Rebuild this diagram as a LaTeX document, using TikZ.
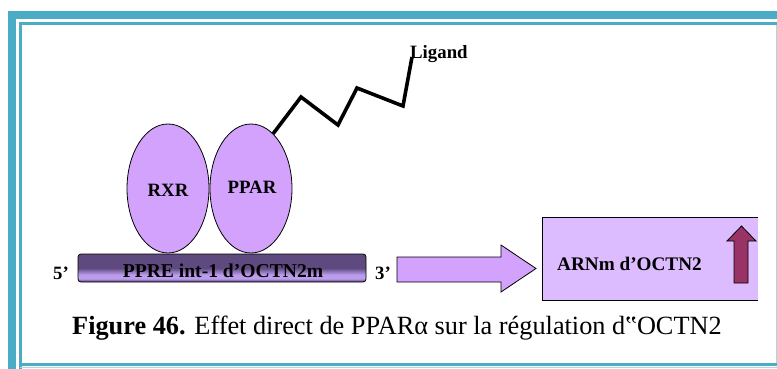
\documentclass[tikz,border=0pt]{standalone}
\usepackage{fontspec}
\setmainfont{Liberation Serif}
\usetikzlibrary{shapes.geometric}
\definecolor{teal}{HTML}{4BACC6}
\definecolor{lteal}{HTML}{A9D8E4}
\definecolor{lilac}{HTML}{D2A2FC}
\definecolor{lilacbox}{HTML}{DDBBFF}
\definecolor{darkp}{HTML}{5E4A7E}
\definecolor{lightp}{HTML}{BC9CEC}
\definecolor{maroon}{HTML}{993366}
\pgfdeclareverticalshading{barshade}{100bp}{color(0bp)=(darkp); color(26bp)=(darkp); color(31bp)=(lightp); color(38bp)=(lightp); color(50bp)=(darkp); color(100bp)=(darkp)}
\tikzset{
  recep/.style={ellipse, draw=black, line width=0.8pt, fill=lilac, minimum width=82pt, minimum height=129pt, inner sep=0pt},
  lbl/.style={font=\fontsize{18.8}{20}\selectfont\bfseries, inner sep=0pt},
}
\begin{document}
\begin{tikzpicture}[x=1pt,y=-1pt]
\useasboundingbox (0,0) rectangle (777,369);
% frame
\fill[teal] (8,11) rectangle (777,19);
\fill[teal] (8,11) rectangle (16,369);
\draw[teal, line width=2.5pt] (20.5,369) -- (20.5,23.5) -- (777,23.5);
\draw[teal, line width=2.2pt] (20.5,364.5) -- (777,364.5);
\draw[lteal, line width=1pt] (776,25) -- (776,363);
\draw[lteal, line width=1pt] (20,367.8) -- (777,367.8);
% receptors
\node[recep] (rxr) at (168,188.5) {};
\node[recep] (ppar) at (251,188.5) {};
\node[lbl] at (168,190) {RXR};
\node[lbl] at (252,187) {PPAR};
% ligand
\node[lbl, anchor=base west] (lig) at (410,59) {Ligand};
\draw[line width=3.6pt, line join=miter] (ppar.68) -- (301,97) -- (338,125) -- (357,88) -- (403,106) -- ([xshift=2pt,yshift=2pt]lig.base west);
% bar
\shade[shading=barshade, draw=black, line width=0.8pt, rounded corners=3pt] (78,254) rectangle (366,282);
\node[font=\fontsize{19.6}{20}\selectfont\bfseries, inner sep=0pt, anchor=base] (ppre) at (223,277) {PPRE int-1 d’OCTN2m};
\node[lbl, anchor=base east] (five) at (69,279) {5’};
\node[lbl, anchor=base west] (three) at (375,279) {3’};
% big arrow
\draw[fill=lilac, line width=0.8pt, line join=miter] (397,257) -- (501,257) -- (501,245) -- (536,268.5) -- (501,292) -- (501,282) -- (397,282) -- cycle;
% ARNm box
\fill[lilacbox] (542,217) rectangle (757.5,300);
\draw[line width=0.8pt] (757.5,217) -- (542,217) -- (542,300) -- (757.5,300);
\node[font=\fontsize{19.2}{20}\selectfont\bfseries, inner sep=0pt, anchor=base west] (arnm) at (557,270) {ARNm d’OCTN2};
% up arrow
\draw[fill=maroon, line width=0.8pt, line join=miter] (734,283) -- (734,241) -- (727,241) -- (741.5,226) -- (756,241) -- (748,241) -- (748,283) -- cycle;
% caption
\node[font=\fontsize{26.3}{30}\selectfont, inner sep=0pt, anchor=base west] (cap) at (72,334) {\textbf{Figure 46.} Effet direct de PPARα sur la régulation d‟OCTN2};
\end{tikzpicture}
\end{document}
